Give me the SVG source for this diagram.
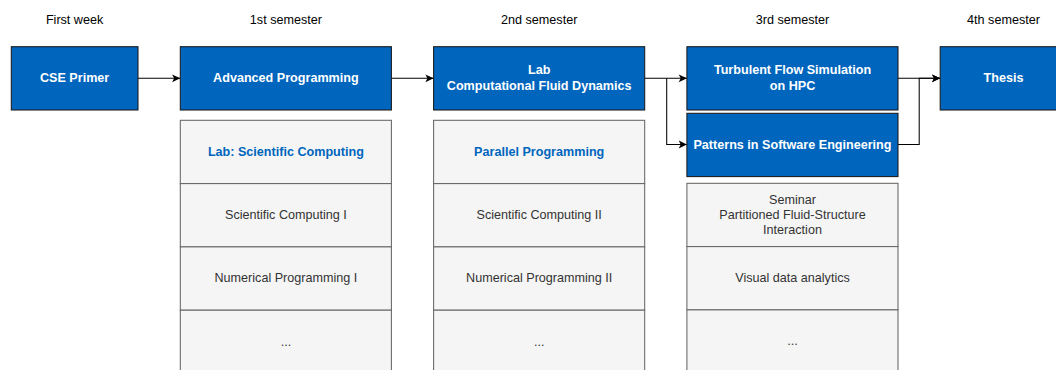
<svg xmlns="http://www.w3.org/2000/svg" width="1056" height="370" viewBox="0 0 1056 370">
  <style>
    text { font-family: "Liberation Sans", Arial, Helvetica, sans-serif; font-size: 12.6px; text-anchor: middle; }
    .head { fill: #000000; }
    .course { fill: #0065BD; stroke: #1a1a1a; stroke-width: 1.05; }
    .course-label { fill: #ffffff; font-weight: bold; }
    .cell { fill: #f5f5f5; stroke: #666666; stroke-width: 1.05; }
    .cell-label { fill: #333333; }
    .cell-key { fill: #0065BD; font-weight: bold; }
    .link { fill: none; stroke: #000000; stroke-width: 1.05; }
  </style>
  <defs>
    <marker id="arrow" markerUnits="userSpaceOnUse" markerWidth="9" markerHeight="9" viewBox="0 0 9 9" refX="8.6" refY="4.5" orient="auto">
      <path d="M0.4,0.6 L8.6,4.5 L0.4,8.4 L2.4,4.5 Z" fill="#000000"/>
    </marker>
  </defs>

  <rect width="1056" height="370" fill="#ffffff"/>

  <!-- term headings -->
  <g id="headings">
    <text class="head" x="74.6" y="23.6">First week</text>
    <text class="head" x="285.9" y="23.6">1st semester</text>
    <text class="head" x="539.2" y="23.6">2nd semester</text>
    <text class="head" x="792.5" y="23.6">3rd semester</text>
    <text class="head" x="1003.5" y="23.6">4th semester</text>
  </g>

  <!-- connectors -->
  <g id="connectors">
    <path class="link" d="M138,78.3 H180.3" marker-end="url(#arrow)"/>
    <path class="link" d="M391.4,78.3 H433.6" marker-end="url(#arrow)"/>
    <path class="link" d="M644.7,78.3 H686.9" marker-end="url(#arrow)"/>
    <path class="link" d="M666.7,78.3 V144.5 H686.9" marker-end="url(#arrow)"/>
    <path class="link" d="M898,78.3 H940.2" marker-end="url(#arrow)"/>
    <path class="link" d="M898,144.5 H919.2 V78.3 H940.2" marker-end="url(#arrow)"/>
  </g>

  <!-- first week -->
  <g id="cse-primer">
    <rect class="course" x="11.3" y="46.7" width="126.7" height="63.3"/>
    <text class="course-label" x="74.6" y="82">CSE Primer</text>
  </g>

  <!-- 1st semester -->
  <g id="advanced-programming">
    <rect class="course" x="180.3" y="46.7" width="211.1" height="63.3"/>
    <text class="course-label" x="285.9" y="82">Advanced Programming</text>
  </g>
  <g id="sem1-electives">
    <rect class="cell" x="180.3" y="120.3" width="211.1" height="63.3"/>
    <text class="cell-key" x="285.9" y="155.7">Lab: Scientific Computing</text>
    <rect class="cell" x="180.3" y="183.6" width="211.1" height="63.3"/>
    <text class="cell-label" x="285.9" y="219">Scientific Computing I</text>
    <rect class="cell" x="180.3" y="246.9" width="211.1" height="63.3"/>
    <text class="cell-label" x="285.9" y="282.3">Numerical Programming I</text>
    <rect class="cell" x="180.3" y="310.2" width="211.1" height="63.3"/>
    <text class="cell-label" x="285.9" y="345.6">...</text>
  </g>

  <!-- 2nd semester -->
  <g id="lab-cfd">
    <rect class="course" x="433.6" y="46.7" width="211.1" height="63.3"/>
    <text class="course-label" x="539.2" y="74.4">Lab</text>
    <text class="course-label" x="539.2" y="89.6">Computational Fluid Dynamics</text>
  </g>
  <g id="sem2-electives">
    <rect class="cell" x="433.6" y="120.3" width="211.1" height="63.3"/>
    <text class="cell-key" x="539.2" y="155.7">Parallel Programming</text>
    <rect class="cell" x="433.6" y="183.6" width="211.1" height="63.3"/>
    <text class="cell-label" x="539.2" y="219">Scientific Computing II</text>
    <rect class="cell" x="433.6" y="246.9" width="211.1" height="63.3"/>
    <text class="cell-label" x="539.2" y="282.3">Numerical Programming II</text>
    <rect class="cell" x="433.6" y="310.2" width="211.1" height="63.3"/>
    <text class="cell-label" x="539.2" y="345.6">...</text>
  </g>

  <!-- 3rd semester -->
  <g id="turbulent-flow">
    <rect class="course" x="686.9" y="46.7" width="211.1" height="63.3"/>
    <text class="course-label" x="792.5" y="74.4">Turbulent Flow Simulation</text>
    <text class="course-label" x="792.5" y="89.6">on HPC</text>
  </g>
  <g id="patterns-se">
    <rect class="course" x="686.9" y="113.3" width="211.1" height="63.3"/>
    <text class="course-label" x="792.5" y="148.6">Patterns in Software Engineering</text>
  </g>
  <g id="sem3-electives">
    <rect class="cell" x="686.9" y="183.3" width="211.1" height="63.3"/>
    <text class="cell-label" x="792.5" y="203.6">Seminar</text>
    <text class="cell-label" x="792.5" y="218.8">Partitioned Fluid-Structure</text>
    <text class="cell-label" x="792.5" y="234">Interaction</text>
    <rect class="cell" x="686.9" y="246.6" width="211.1" height="63.3"/>
    <text class="cell-label" x="792.5" y="282">Visual data analytics</text>
    <rect class="cell" x="686.9" y="309.9" width="211.1" height="63.3"/>
    <text class="cell-label" x="792.5" y="345.3">...</text>
  </g>

  <!-- 4th semester -->
  <g id="thesis">
    <rect class="course" x="940.2" y="46.7" width="126.7" height="63.3"/>
    <text class="course-label" x="1003.5" y="82">Thesis</text>
  </g>
</svg>
